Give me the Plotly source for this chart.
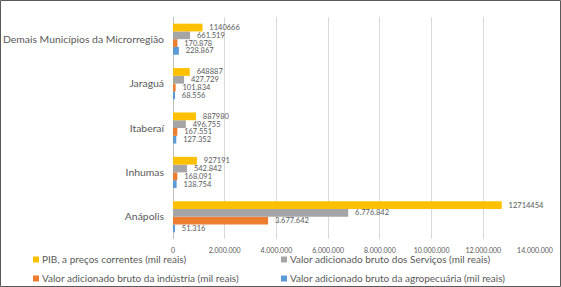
import plotly.graph_objects as go

categories = ["Anápolis", "Inhumas", "Itaberaí", "Jaraguá", "Demais Municípios da Microrregião"]
pib = [12714454, 927191, 887980, 648887, 1140666]
servicos = [6776842, 542842, 496755, 427729, 661519]
industria = [3677642, 168091, 167551, 101834, 170878]
agro = [51316, 138754, 127352, 68556, 228867]

names = {
    "pib": "PIB, a preços correntes (mil reais)",
    "serv": "Valor adicionado bruto dos Serviços (mil reais)",
    "ind": "Valor adicionado bruto da indústria (mil reais)",
    "agro": "Valor adicionado bruto da agropecuária (mil reais)",
}

def dotted(v):
    return f"{v:,}".replace(",", ".")

W, H = 561, 287
L, R, T, B = 173, 26, 17, 48
pw, ph = W - L - R, H - T - B

fig = go.Figure()
series = [
    (agro, names["agro"], "#5B9BD5", [dotted(v) for v in agro], "legend2"),
    (industria, names["ind"], "#ED7D31", [dotted(v) for v in industria], "legend"),
    (servicos, names["serv"], "#A5A5A5", [dotted(v) for v in servicos], "legend2"),
    (pib, names["pib"], "#FFC000", [str(v) for v in pib], "legend"),
]
for vals, nm, col, txt, lg in series:
    fig.add_trace(go.Bar(
        y=categories, x=vals, name=nm, orientation="h",
        marker=dict(color=col, line=dict(width=0)),
        text=["  " + t for t in txt], textposition="outside", constraintext="none",
        cliponaxis=False, legend=lg,
        textfont=dict(family="Lato", size=7.5, color="#595959"),
    ))

leg_common = dict(orientation="v", traceorder="reversed", xanchor="left",
                  y=-(245 - T - ph) / ph, yanchor="top",
                  font=dict(size=10, color="#595959"),
                  itemwidth=30, tracegroupgap=0, bgcolor="rgba(0,0,0,0)")

fig.update_layout(
    width=W, height=H,
    margin=dict(l=L, r=R, t=T, b=B, autoexpand=False),
    paper_bgcolor="white", plot_bgcolor="white",
    barmode="group", bargap=0.3, bargroupgap=0,
    separators=",.",
    font=dict(family="Lato", color="#595959"),
    xaxis=dict(range=[0, 14000000], dtick=2000000, tickformat=",d",
               showgrid=True, gridcolor="#D9D9D9", gridwidth=1,
               zeroline=True, zerolinecolor="#BFBFBF", zerolinewidth=1,
               tickfont=dict(size=7, color="#595959"), ticks="",
               ticklabelstandoff=6),
    yaxis=dict(tickfont=dict(size=10.4, color="#595959"), ticks="",
               ticklabelstandoff=8, showgrid=False),
    legend=dict(x=(2 - L) / pw, **leg_common),
    legend2=dict(x=(250 - L) / pw, **leg_common),
    showlegend=True,
    shapes=[dict(type="rect", xref="paper", yref="paper",
                 x0=(0.5 - L) / pw, x1=(W - 0.5 - L) / pw,
                 y0=-(H - 0.5 - T - ph) / ph, y1=1 + (T - 0.5) / ph,
                 line=dict(color="#595959", width=1), layer="above")],
)

post = """
document.body.style.margin='0px';
function shrinkLegend(){
  document.querySelectorAll('.legendpoints path').forEach(function(p){
    p.setAttribute('d','M17,3H11V-3H17Z');
  });
}
shrinkLegend();
var gd = document.getElementById('{plot_id}');
if (gd && gd.on) { gd.on('plotly_afterplot', shrinkLegend); }
setTimeout(shrinkLegend, 50);
"""

fig.write_html("out.html", config={"displayModeBar": False}, post_script=post)
